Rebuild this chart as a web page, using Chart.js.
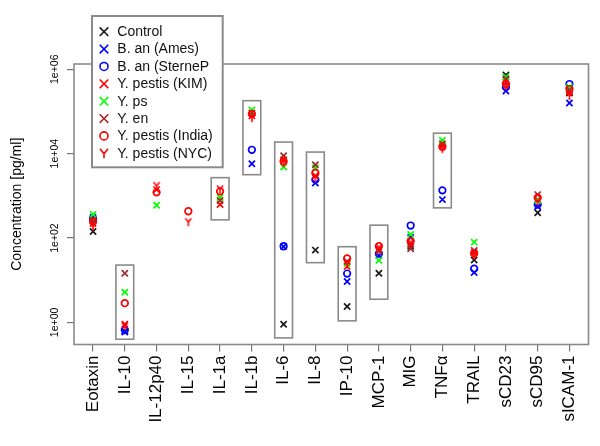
<!DOCTYPE html>
<html>
<head>
<meta charset="utf-8">
<script src="https://cdn.jsdelivr.net/npm/chart.js@4.4.1/dist/chart.umd.min.js"></script>
<style>
  body { margin: 0; background: #fff; }
  canvas { display: block; }
</style>
</head>
<body>
<canvas id="chart" width="600" height="446"></canvas>
<script>
// categories (x axis)
var cytokines = ['Eotaxin', 'IL-10', 'IL-12p40', 'IL-15', 'IL-1a', 'IL-1b', 'IL-6', 'IL-8',
                 'IP-10', 'MCP-1', 'MIG', 'TNF\u03b1', 'TRAIL', 'sCD23', 'sCD95', 'sICAM-1'];

// concentrations in pg/ml, one value per cytokine (null = not shown)
var control     = [143, 0.62, null, null, null, null,   0.91, 51.8, 2.39, 14.6, 63.4, null,  30.1, 729500, 396,  274000];
var amesAn      = [306, 0.59, null, null, null, 5780,   63,   2020, 9.3,  38.8, 103,  815,   15.2, 305500, 557,  159000];
var sterneAn    = [290, 0.66, null, null, null, 12360,  64,   2420, 14.4, 42.6, 198,  1352,  18.8, 380000, 621,  447000];
var kimPestis   = [221, 0.91, 1405, null, 621,  78500,  7200, 3010, 21.3, 53.8, 70.6, 15370, 45,   499000, 815,  289000];
var yPs         = [361, 5.2,  598,  null, 910,  108900, 4830, 4650, 25.1, 29.6, 122,  20500, 80,   654600, 773,  379000];
var yEn         = [261, 14.6, null, null, 773,  92500,  8920, 5470, 28.0, 48.3, 55.9, 17130, 51,   587000, 1071, 322000];
var indiaPestis = [247, 2.86, 1213, 432,  1280, 87500,  6540, 3480, 33.0, 64.4, 84.5, 14550, 43.3, 447500, 910,  340000];
var nycPestis   = [188, 0.82, 1746, 243,  1450, 70500,  6100, 2700, 23.8, 60,   78.7, 13050, 38.8, 401000, 731,  233000];

// highlighted ranges (grey boxes), pg/ml
var boxLow  = [null, 0.40, null, null, 270,  3175,   0.43,  26.1,  1.09, 3.55, null, 519,   null, null, null, null];
var boxHigh = [null, 22.9, null, null, 2700, 180000, 18800, 10900, 62.3, 202,  null, 30600, null, null, null, null];

// y axis ticks
var yTicks = [1, 100, 10000, 1000000];
var yTickLabels = ['1e+00', '1e+02', '1e+04', '1e+06'];

var FONT = "'Liberation Sans', Arial, sans-serif";

function yGlyph(color) {
  var c = document.createElement('canvas');
  c.width = 10; c.height = 10;
  var g = c.getContext('2d');
  g.strokeStyle = color;
  g.lineWidth = 1.6;
  g.beginPath();
  g.moveTo(2, 1.5); g.lineTo(5, 5.2); g.lineTo(8, 1.5);
  g.moveTo(5, 5.2); g.lineTo(5, 9.2);
  g.stroke();
  return c;
}

var series = [
  { label: 'Control',           values: control,     color: '#1a1a1a', style: 'crossRot' },
  { label: 'B. an (Ames)',      values: amesAn,      color: '#0000ff', style: 'crossRot' },
  { label: 'B. an (SterneP',    values: sterneAn,    color: '#0000ff', style: 'circle' },
  { label: 'Y. pestis (KIM)',   values: kimPestis,   color: '#ff0000', style: 'crossRot' },
  { label: 'Y. ps',             values: yPs,         color: '#00ff00', style: 'crossRot' },
  { label: 'Y. en',             values: yEn,         color: '#a52a2a', style: 'crossRot' },
  { label: 'Y. pestis (India)', values: indiaPestis, color: '#ff0000', style: 'circle' },
  { label: 'Y. pestis (NYC)',   values: nycPestis,   color: '#ff0000', style: 'Y' }
];

var datasets = series.map(function (s, k) {
  var style = s.style === 'Y' ? yGlyph(s.color) : s.style;
  var r = s.style === 'circle' ? 3.3 : 4.4;
  return {
    label: s.label,
    data: s.values.map(function (v, i) { return { x: i + 1, y: v }; }),
    pointStyle: style,
    pointRadius: r,
    pointHoverRadius: r,
    pointBorderWidth: 1.7,
    borderColor: s.color,
    backgroundColor: 'rgba(0,0,0,0)',
    showLine: false,
    order: series.length - k
  };
});

function drawMarker(ctx, kind, color, x, y) {
  ctx.save();
  ctx.strokeStyle = color;
  ctx.lineWidth = 1.6;
  ctx.beginPath();
  if (kind === 'crossRot') {
    ctx.moveTo(x - 4.3, y - 4.3); ctx.lineTo(x + 4.3, y + 4.3);
    ctx.moveTo(x + 4.3, y - 4.3); ctx.lineTo(x - 4.3, y + 4.3);
  } else if (kind === 'circle') {
    ctx.arc(x, y, 4, 0, Math.PI * 2);
  } else {
    ctx.moveTo(x - 4, y - 4.5); ctx.lineTo(x, y + 0.5); ctx.lineTo(x + 4, y - 4.5);
    ctx.moveTo(x, y + 0.5); ctx.lineTo(x, y + 5);
  }
  ctx.stroke();
  ctx.restore();
}

var decorations = {
  id: 'decorations',
  beforeDatasetsDraw: function (chart) {
    var ctx = chart.ctx, xs = chart.scales.x, ys = chart.scales.y;
    ctx.save();
    ctx.strokeStyle = '#8a8a8a';
    ctx.lineWidth = 1.6;
    boxLow.forEach(function (lo, i) {
      if (lo === null) return;
      var x0 = xs.getPixelForValue(i + 1 - 0.28), x1 = xs.getPixelForValue(i + 1 + 0.28);
      var y0 = ys.getPixelForValue(boxHigh[i]), y1 = ys.getPixelForValue(lo);
      ctx.strokeRect(x0, y0, x1 - x0, y1 - y0);
    });
    ctx.restore();
  },
  afterDatasetsDraw: function (chart) {
    var ctx = chart.ctx, a = chart.chartArea, ys = chart.scales.y;
    ctx.save();
    // plot frame
    ctx.strokeStyle = '#8a8a8a';
    ctx.lineWidth = 1.6;
    ctx.strokeRect(a.left, a.top, a.right - a.left, a.bottom - a.top);
    // y tick labels, rotated like R's default
    ctx.fillStyle = '#000';
    ctx.font = '10.5px ' + FONT;
    ctx.textAlign = 'center';
    ctx.textBaseline = 'middle';
    yTicks.forEach(function (v, i) {
      ctx.save();
      ctx.translate(55, ys.getPixelForValue(v));
      ctx.rotate(-Math.PI / 2);
      ctx.fillText(yTickLabels[i], 0, 0);
      ctx.restore();
    });
    // legend
    ctx.fillStyle = '#fff';
    ctx.fillRect(92, 16, 130.7, 151.3);
    ctx.strokeStyle = '#8a8a8a';
    ctx.lineWidth = 2;
    ctx.strokeRect(92, 16, 130.7, 151.3);
    ctx.font = '14px ' + FONT;
    ctx.textAlign = 'left';
    series.forEach(function (s, k) {
      var y = 31.7 + k * 17.37;
      drawMarker(ctx, s.style, s.color, 104, y);
      ctx.fillStyle = '#111';
      ctx.fillText(s.label, 117.3, y + 0.5);
    });
    ctx.restore();
  }
};

new Chart(document.getElementById('chart'), {
  type: 'scatter',
  data: { datasets: datasets },
  options: {
    responsive: false,
    animation: false,
    events: [],
    layout: { padding: { top: 64, right: 11.5, bottom: 0, left: 0 } },
    plugins: { legend: { display: false }, tooltip: { enabled: false } },
    scales: {
      x: {
        type: 'linear',
        min: 0.4,
        max: 16.6,
        afterBuildTicks: function (s) {
          s.ticks = cytokines.map(function (c, i) { return { value: i + 1 }; });
        },
        afterFit: function (s) { s.height = 101.5; },
        ticks: {
          callback: function (v, i) { return cytokines[i]; },
          minRotation: 90,
          maxRotation: 90,
          autoSkip: false,
          padding: 4,
          color: '#000',
          font: { family: FONT, size: 17 }
        },
        grid: { drawOnChartArea: false, drawTicks: true, tickLength: 7, color: '#777', lineWidth: 1.2 },
        border: { display: false }
      },
      y: {
        type: 'logarithmic',
        min: 0.3162,
        max: 1333521,
        afterBuildTicks: function (s) {
          s.ticks = yTicks.map(function (v) { return { value: v }; });
        },
        afterFit: function (s) { s.width = 74; },
        ticks: { display: false },
        grid: { drawOnChartArea: false, drawTicks: true, tickLength: 7, color: '#777', lineWidth: 1.2 },
        border: { display: false },
        title: {
          display: true,
          text: 'Concentration [pg/ml]',
          color: '#000',
          font: { family: FONT, size: 14 },
          padding: { top: 9, bottom: 0 }
        }
      }
    }
  },
  plugins: [decorations]
});
</script>
</body>
</html>
